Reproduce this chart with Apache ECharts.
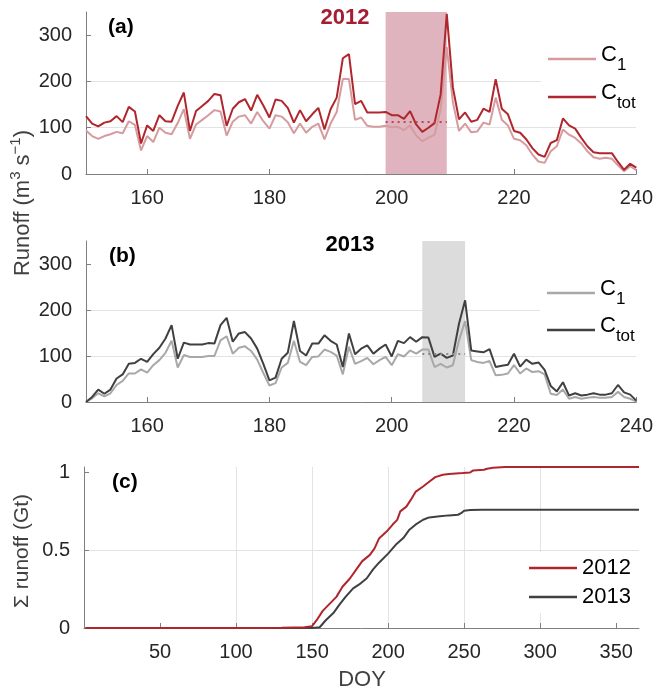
<!DOCTYPE html>
<html>
<head>
<meta charset="utf-8">
<script src="https://cdn.jsdelivr.net/npm/echarts@6/dist/echarts.min.js"></script>
<style>
html,body{margin:0;padding:0;background:#fff;}
#chart{width:656px;height:692px;}
</style>
</head>
<body>
<div id="chart"></div>
<script>
// ---------- DATA ----------
const days = [150,151,152,153,154,155,156,157,158,159,160,161,162,163,164,165,166,167,168,169,
  170,171,172,173,174,175,176,177,178,179,180,181,182,183,184,185,186,187,188,189,
  190,191,192,193,194,195,196,197,198,199,200,201,202,203,204,205,206,207,208,209,
  210,211,212,213,214,215,216,217,218,219,220,221,222,223,224,225,226,227,228,229,
  230,231,232,233,234,235,236,237,238,239,240];

const ctot2012 = [125,109,103,111,114,125,112,145,135,66, 105,93,127,114,113,147,176,93,136,147,
  158,173,170,104,141,155,162,137,171,148, 122,161,158,143,111,138,114,129,143,96,
  140,165,250,259,151,158,133,133,133,134, 127,127,119,136,107,91,100,110,172,346,
  187,118,133,113,117,141,134,205,141,129, 93,89,75,56,42,37,67,73,120,105,
  98,78,60,47,45,45,45,26,9,22, 14];
const c1_2012 = [94,82,76,82,86,91,88,114,106,51, 82,69,100,89,86,110,140,76,107,117,
  127,138,135,83,113,124,127,109,134,114, 98,127,124,112,88,109,89,102,109,75,
  109,134,205,205,117,122,104,102,102,104, 101,102,95,105,83,71,78,85,140,274,
  155,93,109,90,92,111,107,165,117,105, 76,73,62,42,27,24,49,60,96,85,
  78,66,49,36,33,35,33,19,6,17, 8];
const ctot2013 = [0,11,27,18,27,51,60,83,85,94, 87,104,118,138,167,94,129,125,125,125,
  128,127,167,183,131,149,152,138,116,83, 47,53,94,107,176,111,101,127,127,145,
  133,125,76,149,104,116,123,105,116,125, 99,133,128,141,131,141,140,98,105,96,
  101,170,221,112,110,108,115,76,79,81, 105,77,92,83,86,70,35,23,43,14,
  19,14,16,19,16,16,19,37,21,16, 3];
const c1_2013 = [0,8,19,12,19,37,46,62,62,71, 64,80,91,107,133,75,102,98,98,98,
  100,100,134,143,105,118,121,111,92,63, 36,41,75,85,133,87,80,98,99,114,
  109,101,60,120,83,89,96,82,91,98, 80,104,99,112,105,114,114,76,83,75,
  80,134,176,91,87,85,89,58,59,62, 80,62,73,65,67,60,18,15,27,7,
  11,7,9,11,9,9,11,22,11,7, 1];

// shaded periods and baseline levels
const shade2012 = [199, 209];
const base2012 = 112;
const shade2013 = [205, 212];
const base2013 = 105;

// cumulative runoff (Gt)
const cumDay2012 = [1,100,130,145,150,153,157,161,166,170,175,179,183,188,191,194,199,203,206,208,212,215,218,223,227,231,236,240,249,254,256,263,265,269,277,300,365];
const cumVal2012 = [0,0,0.002,0.005,0.012,0.05,0.11,0.15,0.2,0.265,0.32,0.375,0.43,0.47,0.51,0.575,0.62,0.665,0.695,0.75,0.78,0.825,0.875,0.91,0.94,0.97,0.985,0.99,0.996,1.0,1.013,1.017,1.024,1.03,1.035,1.035,1.035];
const cumDay2013 = [1,150,155,159,164,168,172,177,181,186,190,194,200,205,210,214,218,223,227,234,240,246,248,250,254,262,365];
const cumVal2013 = [0,0,0.005,0.05,0.096,0.15,0.2,0.255,0.28,0.32,0.375,0.42,0.478,0.535,0.578,0.632,0.664,0.696,0.711,0.718,0.724,0.728,0.738,0.754,0.758,0.76,0.76];

const xTicksTop = [160,180,200,220,240];
const yTicksTop = [0,100,200,300];
const xTicksCum = [50,100,150,200,250,300,350];
const yTicksCum = [0,0.5,1];

// ---------- STYLE ----------
const FONT = '"Liberation Sans", Arial, Helvetica, sans-serif';
const AX = '#7f7f7f', LBL = '#262626', GRID = '#e3e3e3';
const RED = '#b0262d', PINK = '#d59b9e', DARK = '#404040', GREY = '#a8a8a8';
const TICKFS = 20;

const zip = (xs, ys) => xs.map((x, i) => [x, ys[i]]);

function xAxisTop(idx) {
  return {
    type: 'value', gridIndex: idx, min: 150, max: 240, interval: 10,
    axisLine: {show: true, onZero: false, lineStyle: {color: AX, width: 1}},
    axisTick: {show: true, inside: true, length: 5, lineStyle: {color: AX}, customValues: xTicksTop},
    axisLabel: {color: LBL, fontSize: TICKFS, fontFamily: FONT, margin: 14, customValues: xTicksTop},
    splitLine: {show: false}
  };
}
function yAxisTop(idx) {
  return {
    type: 'value', gridIndex: idx, min: 0, max: 350, interval: 100,
    axisLine: {show: true, lineStyle: {color: AX, width: 1}},
    axisTick: {show: true, inside: true, length: 5, lineStyle: {color: AX}, customValues: yTicksTop},
    axisLabel: {color: LBL, fontSize: TICKFS, fontFamily: FONT, margin: 14, customValues: yTicksTop},
    splitLine: {show: true, showMinLine: false, showMaxLine: false, lineStyle: {color: GRID, width: 1}}
  };
}

const legendRich = {
  c: {fontSize: 22, fontFamily: FONT, color: '#000', lineHeight: 22, verticalAlign: 'top'},
  s: {fontSize: 17, fontFamily: FONT, color: '#000', lineHeight: 17, verticalAlign: 'bottom'},
  z: {fontSize: 2, lineHeight: 30}
};
function legendFmt(name) {
  return name.indexOf('Ctot') === 0 ? '{c|C}{s|tot}{z| }' : '{c|C}{s|1}{z| }';
}

function lineSeries(name, xi, data, color, z) {
  return {
    name: name, type: 'line', xAxisIndex: xi, yAxisIndex: xi, data: data,
    symbol: 'none', lineStyle: {color: color, width: 2}, itemStyle: {color: color},
    z: z, silent: true, animation: false
  };
}

const option = {
  animation: false,
  backgroundColor: '#fff',
  grid: [
    {left: 86, top: 12, width: 552, height: 162},
    {left: 86, top: 241, width: 552, height: 161},
    {left: 84, top: 467, width: 555, height: 161}
  ],
  xAxis: [
    xAxisTop(0),
    xAxisTop(1),
    {
      type: 'value', gridIndex: 2, min: 0, max: 365, interval: 50,
      axisLine: {show: true, onZero: false, lineStyle: {color: AX, width: 1}},
      axisTick: {show: true, inside: true, length: 5, lineStyle: {color: AX}, customValues: xTicksCum},
      axisLabel: {color: LBL, fontSize: TICKFS, fontFamily: FONT, margin: 14, customValues: xTicksCum},
      splitLine: {show: true, showMinLine: false, showMaxLine: false, lineStyle: {color: GRID, width: 1}}
    }
  ],
  yAxis: [
    yAxisTop(0),
    yAxisTop(1),
    {
      type: 'value', gridIndex: 2, min: 0, max: 1.035, interval: 0.5,
      axisLine: {show: true, lineStyle: {color: AX, width: 1}},
      axisTick: {show: true, inside: true, length: 5, lineStyle: {color: AX}, customValues: yTicksCum},
      axisLabel: {color: LBL, fontSize: TICKFS, fontFamily: FONT, margin: 14, customValues: yTicksCum},
      splitLine: {show: true, showMinLine: false, showMaxLine: false, lineStyle: {color: GRID, width: 1}}
    }
  ],
  legend: [
    {
      data: ['C1 2012', 'Ctot 2012'], orient: 'vertical', left: 541, top: 40,
      itemWidth: 48, itemHeight: 2.5, icon: 'rect', itemGap: 8,
      padding: [4, 4, 4, 7], backgroundColor: '#fff',
      formatter: legendFmt, textStyle: {rich: legendRich}, selectedMode: false
    },
    {
      data: ['C1 2013', 'Ctot 2013'], orient: 'vertical', left: 540, top: 274,
      itemWidth: 48, itemHeight: 2.5, icon: 'rect', itemGap: 7,
      padding: [4, 4, 4, 7], backgroundColor: '#fff',
      formatter: legendFmt, textStyle: {rich: legendRich}, selectedMode: false
    },
    {
      data: ['2012', '2013'], orient: 'vertical', left: 523, top: 552,
      itemWidth: 48, itemHeight: 2.5, icon: 'rect', itemGap: 5,
      padding: [4, 4, 4, 6], backgroundColor: '#fff',
      textStyle: {fontSize: 22, fontFamily: FONT, color: '#000', lineHeight: 24}, selectedMode: false
    }
  ],
  series: [
    // shading (a)
    {
      type: 'line', xAxisIndex: 0, yAxisIndex: 0, data: [], z: 1, silent: true,
      markArea: {silent: true, itemStyle: {color: '#dfb4be'}, label: {show: false},
        data: [[{xAxis: shade2012[0]}, {xAxis: shade2012[1]}]]}
    },
    lineSeries('C1 2012', 0, zip(days, c1_2012), PINK, 3),
    lineSeries('Ctot 2012', 0, zip(days, ctot2012), RED, 4),
    {
      type: 'line', xAxisIndex: 0, yAxisIndex: 0, data: [], z: 5, silent: true,
      markLine: {silent: true, symbol: 'none', label: {show: false},
        lineStyle: {color: '#c0474e', width: 2, type: [2, 4]},
        data: [[{coord: [shade2012[0], base2012]}, {coord: [shade2012[1], base2012]}]]}
    },
    // shading (b)
    {
      type: 'line', xAxisIndex: 1, yAxisIndex: 1, data: [], z: 1, silent: true,
      markArea: {silent: true, itemStyle: {color: '#dcdcdc'}, label: {show: false},
        data: [[{xAxis: shade2013[0]}, {xAxis: shade2013[1]}]]}
    },
    lineSeries('C1 2013', 1, zip(days, c1_2013), GREY, 3),
    lineSeries('Ctot 2013', 1, zip(days, ctot2013), DARK, 4),
    {
      type: 'line', xAxisIndex: 1, yAxisIndex: 1, data: [], z: 5, silent: true,
      markLine: {silent: true, symbol: 'none', label: {show: false},
        lineStyle: {color: '#8a8a8a', width: 2, type: [2, 4]},
        data: [[{coord: [shade2013[0], base2013]}, {coord: [shade2013[1], base2013]}]]}
    },
    // cumulative (c)
    Object.assign(lineSeries('2012', 2, zip(cumDay2012, cumVal2012), RED, 4), {clip: false}),
    Object.assign(lineSeries('2013', 2, zip(cumDay2013, cumVal2013), DARK, 3), {clip: false})
  ],
  graphic: [
    {type: 'text', left: 108, top: 17, style: {text: '(a)', font: 'bold 21px ' + FONT, fill: '#000'}},
    {type: 'text', left: 109, top: 246, style: {text: '(b)', font: 'bold 21px ' + FONT, fill: '#000'}},
    {type: 'text', left: 112, top: 472, style: {text: '(c)', font: 'bold 21px ' + FONT, fill: '#000'}},
    {type: 'text', x: 345, y: 18, style: {text: '2012', font: 'bold 22px ' + FONT, fill: '#a51d33', align: 'center', verticalAlign: 'middle'}},
    {type: 'text', x: 350, y: 245, style: {text: '2013', font: 'bold 22px ' + FONT, fill: '#000', align: 'center', verticalAlign: 'middle'}},
    {type: 'text', x: 21, y: 203, rotation: Math.PI / 2, style: {
      text: '{n|Runoff (m}{p|3}{n| s}{p|−1}{n|)}', align: 'center', verticalAlign: 'middle',
      rich: {
        n: {fontSize: 22, fontFamily: FONT, fill: '#404040', color: '#404040', lineHeight: 26, verticalAlign: 'bottom'},
        p: {fontSize: 15, fontFamily: FONT, fill: '#404040', color: '#404040', lineHeight: 15, verticalAlign: 'top'}
      }}},
    {type: 'text', x: 22, y: 551, rotation: Math.PI / 2, style: {text: 'Σ runoff (Gt)', font: '21px ' + FONT, fill: '#404040', align: 'center', verticalAlign: 'middle'}},
    {type: 'text', x: 362, y: 680, style: {text: 'DOY', font: '22px ' + FONT, fill: '#404040', align: 'center', verticalAlign: 'middle'}}
  ]
};

const chart = echarts.init(document.getElementById('chart'), null, {renderer: 'canvas'});
chart.setOption(option);
</script>
</body>
</html>
